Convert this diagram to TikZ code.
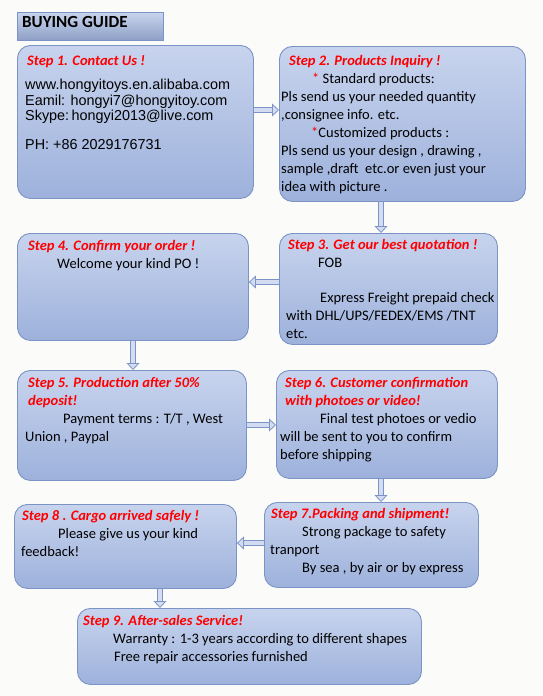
\documentclass[tikz,border=0pt]{standalone}
\usepackage{fontspec}
\setmainfont{Carlito}
\newfontfamily\arialfont{Liberation Sans}
\usetikzlibrary{positioning,arrows.meta}

\definecolor{boxtop}{HTML}{C8D4EE}
\definecolor{boxbottom}{HTML}{9DB1DB}
\definecolor{boxline}{HTML}{7C93C6}
\definecolor{arrowfill}{HTML}{D3DCF0}
\definecolor{paper}{HTML}{FBFBF9}

\newcommand{\stephead}[1]{{\color{red}\bfseries\itshape #1}}
\newcommand{\redstar}{{\color{red}*}}

\begin{document}
\begin{tikzpicture}[x=1pt,y=-1pt,
      stepbox/.style={draw=boxline,line width=0.9pt,rounded corners=13pt,
        top color=boxtop,bottom color=boxbottom,anchor=north west,inner sep=0pt},
      titlebox/.style={draw=boxline,line width=0.9pt,
        top color=boxtop,bottom color=boxbottom!90!black,anchor=north west,inner sep=0pt},
      steptext/.style={anchor=north west,align=left,inner sep=0pt,
        font=\fontsize{14.5}{18}\selectfont},
      flowarrow/.style={draw=boxline,line width=0.8pt,double=arrowfill,
        double distance=3.5pt,-{Triangle[length=7pt,width=13pt,fill=arrowfill]}}]

  % paper
  \fill[paper] (0,0) rectangle (543,696);
  \useasboundingbox (0,0) rectangle (543,696);

  % title
  \node[titlebox,minimum width=146pt,minimum height=28pt] (title) at (17,12) {};
  \node[anchor=west,inner sep=0pt,font=\fontsize{17}{20}\bfseries\selectfont]
    (title-text) at (22,22) {BUYING GUIDE};

  % boxes
  \node[stepbox,minimum width=236pt,minimum height=153pt] (s1) at (17,45) {};
  \node[stepbox,minimum width=246pt,minimum height=155pt] (s2) at (279,46) {};
  \node[stepbox,minimum width=218pt,minimum height=111pt] (s3) at (279,233) {};
  \node[stepbox,minimum width=231pt,minimum height=107pt] (s4) at (17,233) {};
  \node[stepbox,minimum width=229pt,minimum height=110pt] (s5) at (17,370) {};
  \node[stepbox,minimum width=221pt,minimum height=108pt] (s6) at (276,370) {};
  \node[stepbox,minimum width=214pt,minimum height=85pt] (s7) at (264,502) {};
  \node[stepbox,minimum width=222pt,minimum height=84pt] (s8) at (14,504) {};
  \node[stepbox,minimum width=344pt,minimum height=76pt] (s9) at (77,608) {};

  % texts
  \node[steptext] (s1-head) at (27,55) {\stephead{Step 1. Contact Us !}};
  \node[steptext,font=\arialfont\fontsize{14.4}{15.5}\selectfont] (s1-text) at (25,79)
    {www.hongyitoys.en.alibaba.com\\
     Eamil: hongyi7@hongyitoy.com\\
     Skype:\,hongyi2013@live.com\\[13.5pt]
     PH: +86 2029176731};

  \node[steptext] (s2-text) at (281,55)
    {\hspace*{8pt}\stephead{Step 2. Products Inquiry !}\\
     \hspace*{31pt}\redstar{} Standard products:\\
     Pls send us your needed quantity\\
     ,consignee info. etc.\\
     \hspace*{30pt}\redstar Customized products :\\
     Pls send us your design , drawing ,\\
     sample ,draft\ \ etc.or even just your\\
     idea with picture .};

  \node[steptext] (s3-text) at (286,239)
    {\hspace*{2pt}\stephead{Step 3. Get our best quotation !}\\
     \hspace*{32pt}FOB\\[17pt]
     \hspace*{34pt}Express Freight prepaid check\\
     with DHL/UPS/FEDEX/EMS /TNT\\
     etc.};

  \node[steptext] (s4-text) at (28,240)
    {\stephead{Step 4. Confirm your order !}\\
     \hspace*{29pt}Welcome your kind PO !};

  \node[steptext] (s5-text) at (25,377)
    {\hspace*{3pt}\stephead{Step 5. Production after 50\%}\\
     \hspace*{3pt}\stephead{deposit!}\\
     \hspace*{38pt}Payment terms : T/T , West\\
     Union , Paypal};

  \node[steptext] (s6-text) at (280,377)
    {\hspace*{5pt}\stephead{Step 6. Customer confirmation}\\
     \hspace*{5pt}\stephead{with photoes or video!}\\
     \hspace*{40pt}Final test photoes or vedio\\
     will be sent to you to confirm\\
     before shipping};

  \node[steptext] (s7-text) at (270,508)
    {\hspace*{1pt}\stephead{Step 7.Packing and shipment!}\\
     \hspace*{32pt}Strong package to safety\\
     tranport\\
     \hspace*{32pt}By sea , by air or by express};

  \node[steptext] (s8-text) at (21,510)
    {\hspace*{1pt}\stephead{Step 8 . Cargo arrived safely !}\\
     \hspace*{37pt}Please give us your kind\\
     feedback!};

  \node[steptext] (s9-text) at (83,615)
    {\stephead{Step 9. After-sales Service!}\\
     \hspace*{30pt}Warranty : 1-3 years according to different shapes\\
     \hspace*{31pt}Free repair accessories furnished};

  % arrows
  \draw[flowarrow] (s1.east |- 0,110) -- (s2.west |- 0,110);
  \draw[flowarrow] (s2.south -| 381,0) -- (s3.north -| 381,0);
  \draw[flowarrow] (s3.west |- 0,282) -- (s4.east |- 0,282);
  \draw[flowarrow] (s4.south -| 133,0) -- (s5.north -| 133,0);
  \draw[flowarrow] (s5.east |- 0,425) -- (s6.west |- 0,425);
  \draw[flowarrow] (s6.south -| 381,0) -- (s7.north -| 381,0);
  \draw[flowarrow] (s7.west |- 0,543) -- (s8.east |- 0,543);
  \draw[flowarrow] (s8.south -| 160,0) -- (s9.north -| 160,0);
\end{tikzpicture}
\end{document}
